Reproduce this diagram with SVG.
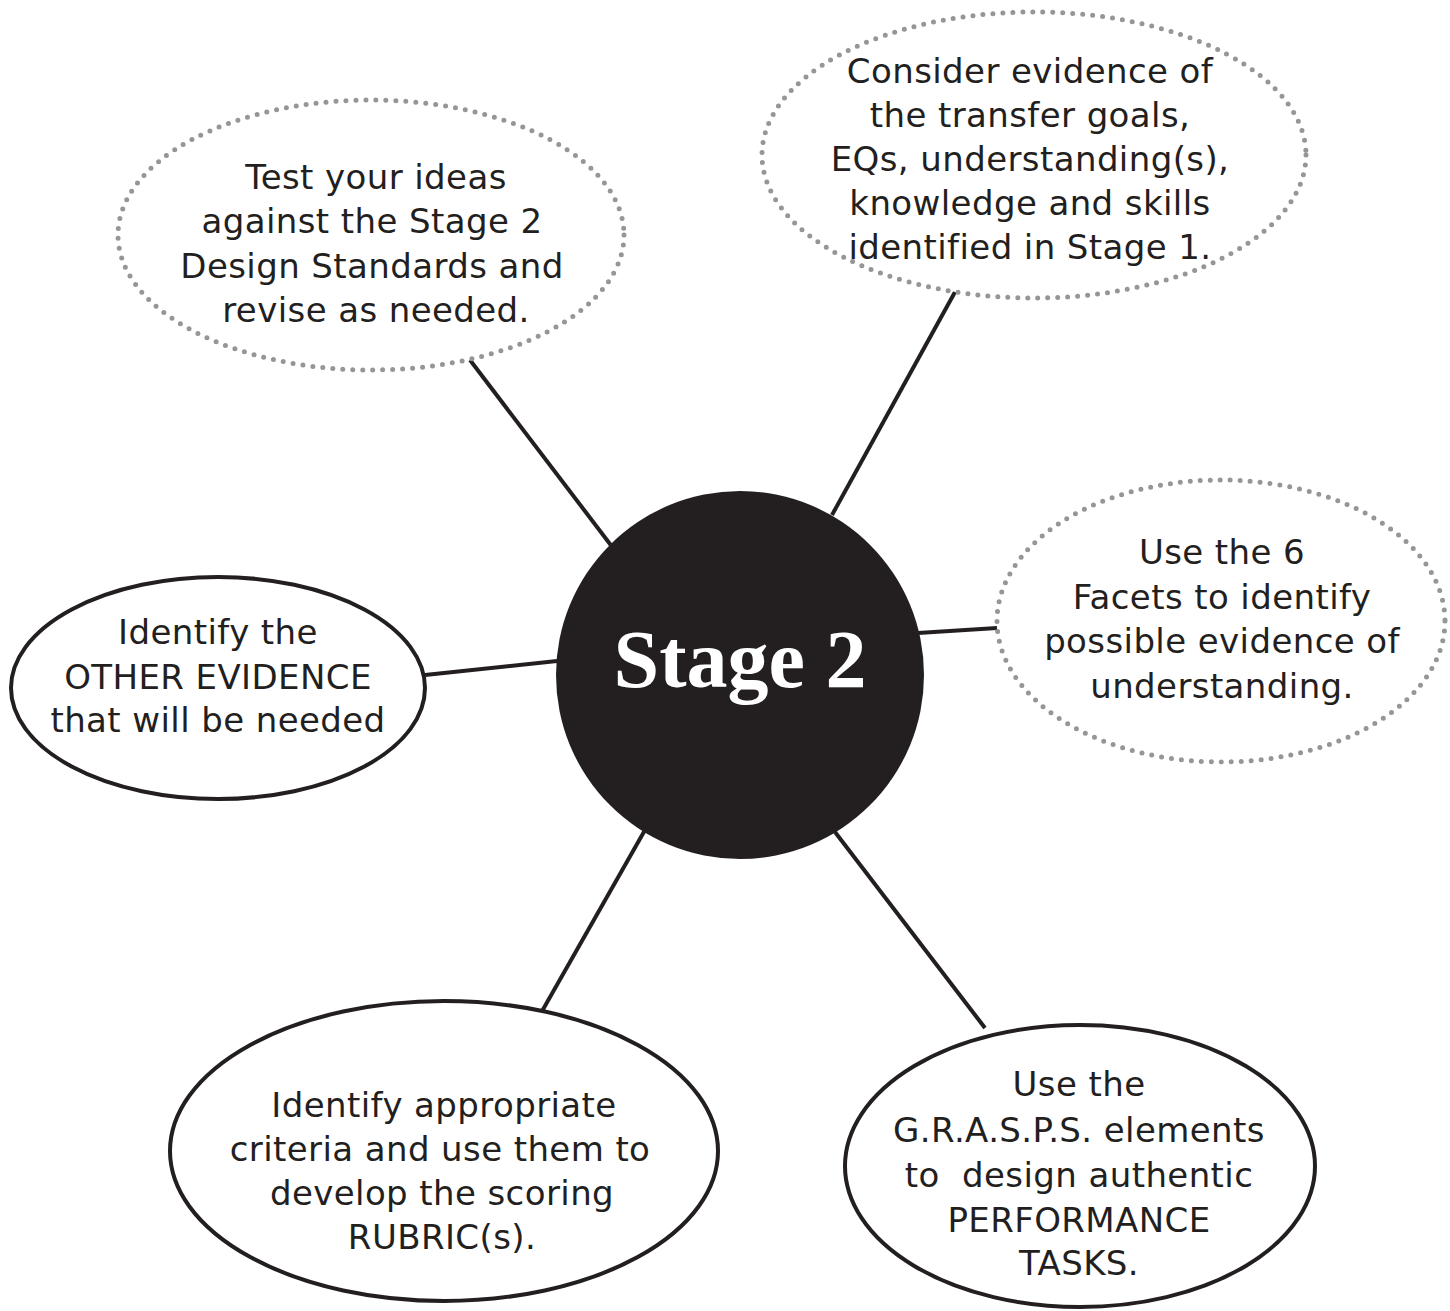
<svg xmlns="http://www.w3.org/2000/svg" width="1450" height="1311" viewBox="0 0 1450 1311">
  <style>
    .lbl { font-family: "DejaVu Sans", "Noto Sans", sans-serif; font-size: 34px; letter-spacing: 0.4px; fill: #231f20; text-anchor: middle; }
    .dotted { fill: #ffffff; stroke: #969696; stroke-width: 5; stroke-linecap: round; stroke-dasharray: 0 10; }
    .solid { fill: #ffffff; stroke: #231f20; stroke-width: 4; }
    .link { stroke: #231f20; stroke-width: 4; fill: none; }
  </style>
  <rect width="1450" height="1311" fill="#ffffff"/>

  <!-- spokes from the hub to each step -->
  <g id="connectors">
    <line class="link" x1="470" y1="360" x2="613" y2="548"/>
    <line class="link" x1="955" y1="292" x2="832" y2="515"/>
    <line class="link" x1="918" y1="633" x2="997" y2="628"/>
    <line class="link" x1="425" y1="675" x2="557" y2="661"/>
    <line class="link" x1="537" y1="1020" x2="645" y2="830"/>
    <line class="link" x1="985" y1="1028" x2="835" y2="832"/>
  </g>

  <g id="hub">
    <circle cx="740" cy="675" r="184" fill="#231f20"/>
    <text x="740" y="687" font-family="'Liberation Serif', 'Times New Roman', serif" font-weight="bold" font-size="82" fill="#ffffff" text-anchor="middle">Stage 2</text>
  </g>

  <g id="test-ideas">
    <ellipse class="dotted" cx="371" cy="235" rx="253" ry="135"/>
    <text class="lbl" x="376" y="189">Test your ideas</text>
    <text class="lbl" x="372" y="233">against the Stage 2</text>
    <text class="lbl" x="372" y="278">Design Standards and</text>
    <text class="lbl" x="376" y="322">revise as needed.</text>
  </g>

  <g id="consider-evidence">
    <ellipse class="dotted" cx="1034" cy="155" rx="272" ry="143"/>
    <text class="lbl" x="1030" y="83">Consider evidence of</text>
    <text class="lbl" x="1030" y="127">the transfer goals,</text>
    <text class="lbl" x="1030" y="171">EQs, understanding(s),</text>
    <text class="lbl" x="1030" y="215">knowledge and skills</text>
    <text class="lbl" x="1030" y="259">identified in Stage 1.</text>
  </g>

  <g id="six-facets">
    <ellipse class="dotted" cx="1221" cy="621" rx="224" ry="141"/>
    <text class="lbl" x="1222" y="564">Use the 6</text>
    <text class="lbl" x="1222" y="609">Facets to identify</text>
    <text class="lbl" x="1222" y="653">possible evidence of</text>
    <text class="lbl" x="1222" y="698">understanding.</text>
  </g>

  <g id="other-evidence">
    <ellipse class="solid" cx="218" cy="688" rx="207" ry="111"/>
    <text class="lbl" x="218" y="644">Identify the</text>
    <text class="lbl" x="218" y="689">OTHER EVIDENCE</text>
    <text class="lbl" x="218" y="732">that will be needed</text>
  </g>

  <g id="rubrics">
    <ellipse class="solid" cx="444" cy="1151" rx="274" ry="150"/>
    <text class="lbl" x="444" y="1117">Identify appropriate</text>
    <text class="lbl" x="440" y="1161">criteria and use them to</text>
    <text class="lbl" x="442" y="1205">develop the scoring</text>
    <text class="lbl" x="442" y="1249">RUBRIC(s).</text>
  </g>

  <g id="performance-tasks">
    <ellipse class="solid" cx="1080" cy="1166" rx="235" ry="141"/>
    <text class="lbl" x="1079" y="1096">Use the</text>
    <text class="lbl" x="1079" y="1142">G.R.A.S.P.S. elements</text>
    <text class="lbl" x="1079" y="1187" xml:space="preserve">to  design authentic</text>
    <text class="lbl" x="1079" y="1232">PERFORMANCE</text>
    <text class="lbl" x="1079" y="1275">TASKS.</text>
  </g>
</svg>
